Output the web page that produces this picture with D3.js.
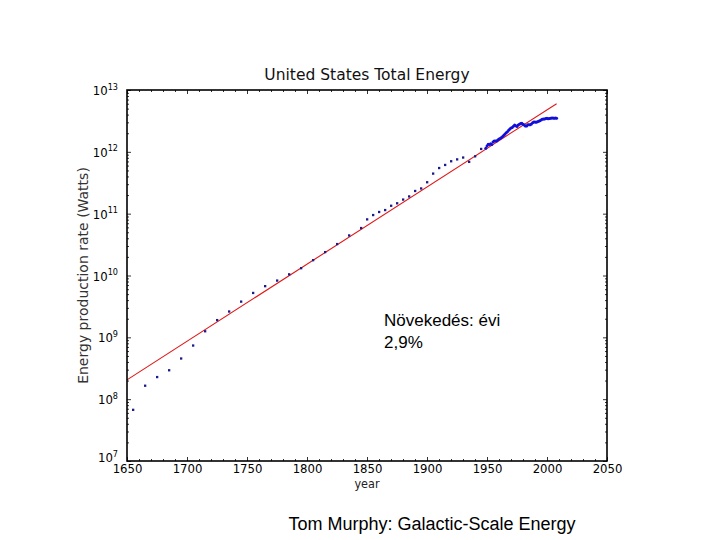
<!DOCTYPE html>
<html><head><meta charset="utf-8">
<script src="https://cdn.jsdelivr.net/npm/d3@7"></script>
<style>
body{margin:0;background:#fff;}
svg{display:block;}
</style></head>
<body><svg id="c" width="720" height="540"></svg>
<script>
// Historical points (year, watts)
const histYears = [1655,1665,1675,1685,1695,1705,1715,1725,1735,1745,1755,1765,1775,1785,1795,1805,1815,1825,1835,
  1845,1850,1855,1860,1865,1870,1875,1880,1885,1890,1895,1900,1905,1910,1915,1920,1925,1930,1935,1940,1945];
const histWatts = [6.76e7,1.66e8,2.29e8,2.95e8,4.57e8,7.41e8,1.26e9,1.91e9,2.63e9,3.80e9,5.25e9,6.76e9,8.32e9,1.05e10,1.32e10,1.78e10,2.40e10,3.24e10,4.47e10,
  5.89e10,8.13e10,9.55e10,1.07e11,1.15e11,1.35e11,1.48e11,1.70e11,1.91e11,2.34e11,2.57e11,3.24e11,4.47e11,5.50e11,6.17e11,7.08e11,7.59e11,8.13e11,6.92e11,8.51e11,1.12e12];
// Modern annual series (year, terawatts)
const modernYears = d3.range(1949, 2009);
const modernTW = [1.145,1.239,1.324,1.316,1.348,1.312,1.440,1.495,1.496,1.491,1.556,1.614,1.637,1.712,1.777,1.855,1.934,2.041,2.109,2.235,
  2.349,2.429,2.481,2.603,2.710,2.649,2.577,2.721,2.792,2.864,2.896,2.797,2.727,2.617,2.612,2.743,2.735,2.744,2.830,2.961,
  3.033,3.025,3.023,3.073,3.130,3.189,3.259,3.366,3.387,3.402,3.460,3.500,3.443,3.470,3.480,3.510,3.520,3.500,3.530,3.500];
// Exponential fit endpoints (2.9% per year)
const fitYears = [1650, 2008];
const fitWatts = [2.05e8, 6.0e12];
const xTicks = [1650,1700,1750,1800,1850,1900,1950,2000,2050];
const yExps = [7,8,9,10,11,12,13];

const svg = d3.select("#c");
const L=127, R=607, T=90, B=461;
const x = d3.scaleLinear().domain([1650,2050]).range([L,R]);
const y = d3.scaleLog().domain([1e7,1e13]).range([B,T]);
const DV = "'DejaVu Sans', sans-serif";
const DVC = "'DejaVu Sans Condensed', 'DejaVu Sans', sans-serif";
const ARIAL = "'Liberation Sans', Arial, sans-serif";

// minor ticks
const yMinor = [];
yExps.slice(0,-1).forEach(e=>{for(let k=2;k<10;k++) yMinor.push(k*Math.pow(10,e));});
const xMinor = d3.range(1650,2051,10).filter(v=>v%50!==0);

function ticksGroup(axisFn, transform, vals, size){
  svg.append("g").attr("transform",transform)
    .call(axisFn.tickValues(vals).tickSize(size).tickFormat("").tickSizeOuter(0))
    .call(g=>{g.select(".domain").remove(); g.selectAll("line").attr("stroke","#000").attr("stroke-width",0.8);});
}
const yMajV = yExps.map(e=>Math.pow(10,e));
ticksGroup(d3.axisRight(y), `translate(${L},0)`, yMajV, 4);
ticksGroup(d3.axisRight(y), `translate(${L},0)`, yMinor, 2);
ticksGroup(d3.axisLeft(y), `translate(${R},0)`, yMajV, 4);
ticksGroup(d3.axisLeft(y), `translate(${R},0)`, yMinor, 2);
ticksGroup(d3.axisTop(x), `translate(0,${B})`, xTicks, 4);
ticksGroup(d3.axisTop(x), `translate(0,${B})`, xMinor, 2);
ticksGroup(d3.axisBottom(x), `translate(0,${T})`, xTicks, 4);
ticksGroup(d3.axisBottom(x), `translate(0,${T})`, xMinor, 2);

// x tick labels
svg.append("g").attr("transform",`translate(0,${B})`)
  .call(d3.axisBottom(x).tickValues(xTicks).tickSize(0).tickPadding(12).tickFormat(d3.format("d")))
  .call(g=>{g.select(".domain").remove();
    g.selectAll("text").style("font-family",DVC).style("font-size","13px").attr("fill","#000").attr("dy",0);});

// y tick labels with superscripts
svg.append("g").attr("transform",`translate(${L},0)`)
  .call(d3.axisLeft(y).tickValues(yMajV).tickSize(0).tickPadding(9).tickFormat(""))
  .call(g=>{g.select(".domain").remove();
    g.selectAll(".tick text").each(function(d){
      const e = Math.round(Math.log10(d));
      const t=d3.select(this).style("font-family",DVC).style("font-size","13px").attr("fill","#000")
        .attr("dy", e===7 ? "0.05em" : "0.35em");
      t.append("tspan").text("10");
      t.append("tspan").style("font-size","9px").attr("dy","-0.6em").text(e);
    });});

// fit line
svg.append("path")
  .datum(fitYears.map((v,i)=>[v,fitWatts[i]]))
  .attr("d", d3.line().x(d=>x(d[0])).y(d=>y(d[1])))
  .attr("fill","none").attr("stroke","#e01818").attr("stroke-width",1.1);

// historical points
svg.append("g").selectAll("rect").data(histYears.map((v,i)=>[v,histWatts[i]])).join("rect")
  .attr("x",d=>x(d[0])-1).attr("y",d=>y(d[1])-1).attr("width",2.3).attr("height",2.3)
  .attr("fill","#1a1a8c");

// modern points
svg.append("g").selectAll("circle").data(modernYears.map((v,i)=>[v,modernTW[i]*1e12])).join("circle")
  .attr("cx",d=>x(d[0])).attr("cy",d=>y(d[1])).attr("r",1.5).attr("fill","#1010d8");

// frame
svg.append("rect").attr("x",L).attr("y",T).attr("width",R-L).attr("height",B-T)
  .attr("fill","none").attr("stroke","#000").attr("stroke-width",1.6);

// title & labels
svg.append("text").attr("x",(L+R)/2).attr("y",80).attr("text-anchor","middle")
  .style("font-family",DV).style("font-size","15.5px").attr("fill","#111").text("United States Total Energy");
svg.append("text").attr("x",(L+R)/2).attr("y",488).attr("text-anchor","middle")
  .style("font-family",DVC).style("font-size","12.5px").attr("fill","#222").text("year");
svg.append("text").attr("transform",`translate(88,${(T+B)/2}) rotate(-90)`).attr("text-anchor","middle")
  .style("font-family",DV).style("font-size","14px").attr("fill","#333").text("Energy production rate (Watts)");

// annotation
const ann = svg.append("text").style("font-family",ARIAL).style("font-size","17px").attr("fill","#000");
ann.append("tspan").attr("x",384).attr("y",326).text("Növekedés: évi");
ann.append("tspan").attr("x",384).attr("y",348).text("2,9%");

svg.append("text").attr("x",432).attr("y",530).attr("text-anchor","middle")
  .style("font-family",ARIAL).style("font-size","18px").attr("fill","#000")
  .text("Tom Murphy: Galactic-Scale Energy");
</script></body></html>
